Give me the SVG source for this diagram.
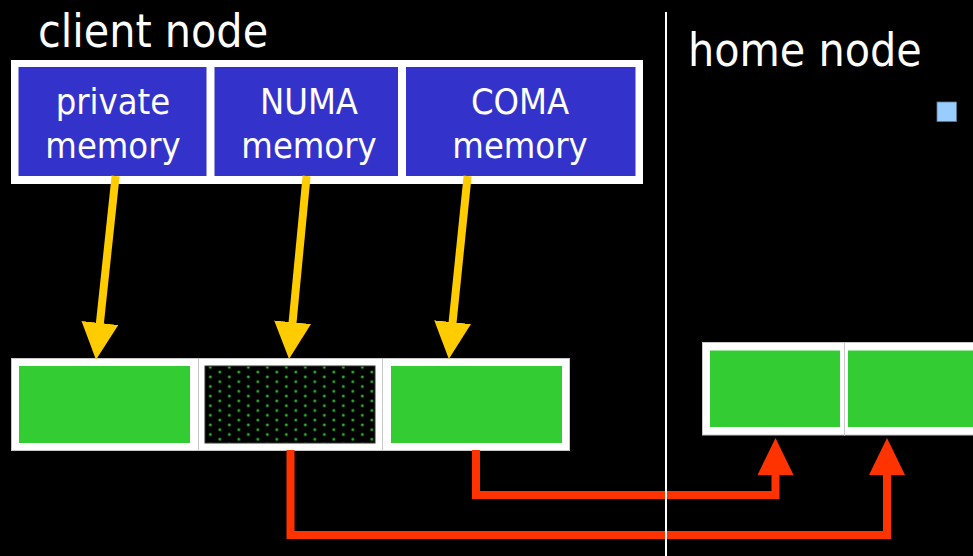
<svg xmlns="http://www.w3.org/2000/svg" width="973" height="556" viewBox="0 0 973 556">
  <style>
    .label { font-family: "DejaVu Sans Condensed", "DejaVu Sans", sans-serif; font-stretch: condensed; fill: #ffffff; }
    .head { font-size: 46px; }
    .mem { font-size: 36px; text-anchor: middle; }
    .frame { fill: #ffffff; }
    .cell { fill: #ffffff; stroke: #c8c8c8; stroke-width: 1; }
    .blue { fill: #3333cc; }
    .green { fill: #33cc33; }
    .feed { stroke: #ffcc00; stroke-width: 8; fill: none; marker-end: url(#yellowHead); }
    .route { stroke: #ff3300; stroke-width: 8; fill: none; stroke-linejoin: miter; marker-end: url(#redHead); }
  </style>
  <defs>
    <marker id="yellowHead" markerUnits="userSpaceOnUse" markerWidth="38" markerHeight="38" viewBox="0 0 38 38" refX="2" refY="18.5" orient="auto">
      <path d="M0,0 L37,18.5 L0,37 Z" fill="#ffcc00"/>
    </marker>
    <marker id="redHead" markerUnits="userSpaceOnUse" markerWidth="38" markerHeight="38" viewBox="0 0 38 38" refX="2" refY="18" orient="auto">
      <path d="M0,0 L37,18 L0,36 Z" fill="#ff3300"/>
    </marker>
    <pattern id="dots" patternUnits="userSpaceOnUse" x="205.8" y="362.5" width="19" height="9.6">
      <rect width="19" height="9.6" fill="#000000"/>
      <g fill="#1c6e1c">
        <circle cx="4.5" cy="4.8" r="1.7"/>
        <circle cx="14" cy="0" r="1.7"/>
        <circle cx="14" cy="9.6" r="1.7"/>
      </g>
      <g fill="#33cc33">
        <circle cx="4.5" cy="4.8" r="0.9"/>
        <circle cx="14" cy="0" r="0.9"/>
        <circle cx="14" cy="9.6" r="0.9"/>
      </g>
    </pattern>
  </defs>

  <rect width="973" height="556" fill="#000000"/>

  <text class="label head" x="38" y="46.5">client node</text>
  <text class="label head" x="688" y="65.5">home node</text>

  <!-- bullet marker -->
  <rect x="937" y="102" width="19.5" height="19.5" fill="#99ccff" stroke="#5a7a99" stroke-width="0.8"/>

  <!-- client memory kinds -->
  <rect class="frame" x="11" y="60" width="632" height="124"/>
  <g id="private-memory">
    <rect class="blue" x="18.5" y="67" width="188" height="109"/>
    <text class="label mem" x="113" y="113.5">private</text>
    <text class="label mem" x="113" y="158">memory</text>
  </g>
  <g id="numa-memory">
    <rect class="blue" x="214.5" y="67" width="183.5" height="109"/>
    <text class="label mem" x="309" y="113.5">NUMA</text>
    <text class="label mem" x="309" y="158">memory</text>
  </g>
  <g id="coma-memory">
    <rect class="blue" x="406" y="67" width="229.5" height="109"/>
    <text class="label mem" x="520" y="113.5">COMA</text>
    <text class="label mem" x="520" y="158">memory</text>
  </g>

  <!-- client pages -->
  <g id="client-page-private">
    <rect class="cell" x="11.5" y="358.5" width="187" height="92"/>
    <rect class="green" x="19" y="366" width="171" height="77"/>
  </g>
  <g id="client-page-numa">
    <rect class="cell" x="198.5" y="358.5" width="184" height="92"/>
    <rect x="205" y="366" width="170" height="77" fill="url(#dots)" stroke="#333333" stroke-width="1"/>
  </g>
  <g id="client-page-coma">
    <rect class="cell" x="382.5" y="358.5" width="187" height="92"/>
    <rect class="green" x="391" y="366" width="171" height="77"/>
  </g>

  <!-- home pages -->
  <g id="home-page-1">
    <rect class="cell" x="702.5" y="342.5" width="142" height="92.5"/>
    <rect class="green" x="710" y="350.5" width="130" height="76.5"/>
  </g>
  <g id="home-page-2">
    <rect class="cell" x="844.5" y="342.5" width="140" height="92.5"/>
    <rect class="green" x="848" y="350.5" width="130" height="76.5"/>
  </g>

  <g id="connectors">
    <path class="feed" d="M115.6,176 L99.7,325"/>
    <path class="feed" d="M306.6,176 L292.4,324.2"/>
    <path class="feed" d="M467.6,176 L452.4,324.2"/>
    <path class="route" d="M476,450 V495 H775.5 V473"/>
    <path class="route" d="M290.5,450 V535 H887 V473"/>
  </g>

  <!-- node divider -->
  <line x1="666" y1="12" x2="666" y2="556" stroke="#ffffff" stroke-width="2"/>
</svg>
